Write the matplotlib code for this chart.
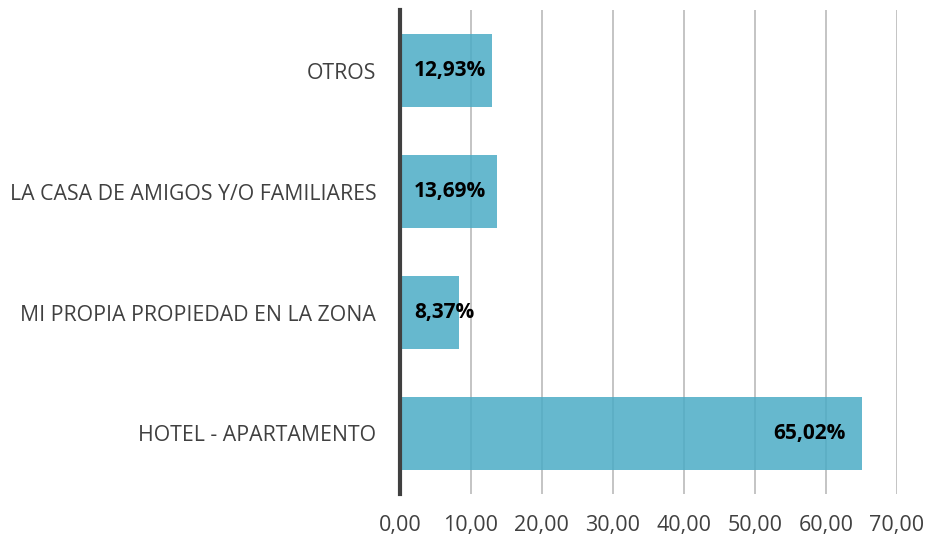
import matplotlib.pyplot as plt

categories = ['HOTEL - APARTAMENTO', 'MI PROPIA PROPIEDAD EN LA ZONA',
              'LA CASA DE AMIGOS Y/O FAMILIARES', 'OTROS']
values = [65.02, 8.37, 13.69, 12.93]
ticks = [0, 10, 20, 30, 40, 50, 60, 70]

plt.rcParams['font.family'] = ['Open Sans', 'DejaVu Sans']

fig = plt.figure(figsize=(9.3, 5.39), dpi=100)
ax = fig.add_axes([0.43, 0.0835, 0.5345, 0.8979])

y = range(len(categories))
ax.barh(y, values, height=0.6, color='#4BACC6', alpha=0.85, zorder=2)

# percentage labels: small bars from the base, large ones near the end
for i, v in enumerate(values):
    txt = f'{v:.2f}%'.replace('.', ',')
    if v < 20:
        ax.text(2.0, i, txt, ha='left', va='center', fontsize=15,
                fontweight='bold', color='black', zorder=3)
    else:
        ax.text(v - 2.2, i, txt, ha='right', va='center', fontsize=15,
                fontweight='bold', color='black', zorder=3)

ax.set_xlim(0, 70)
ax.set_ylim(-0.5, 3.5)
ax.set_xticks(ticks)
ax.set_xticklabels([f'{t:.2f}'.replace('.', ',') for t in ticks],
                   fontsize=15.5, color='#404040')
ax.set_yticks(list(y))
ax.set_yticklabels(categories, fontsize=15.3, color='#404040')
ax.tick_params(axis='both', length=0)
ax.tick_params(axis='x', pad=15)
ax.tick_params(axis='y', pad=17)

ax.grid(axis='x', color='#BFBFBF', linewidth=1.3, zorder=1)
for s in ['top', 'right', 'bottom']:
    ax.spines[s].set_visible(False)
ax.spines['left'].set_color('#404040')
ax.spines['left'].set_linewidth(3)
ax.spines['left'].set_zorder(4)

fig.savefig('out.png', dpi=100)
